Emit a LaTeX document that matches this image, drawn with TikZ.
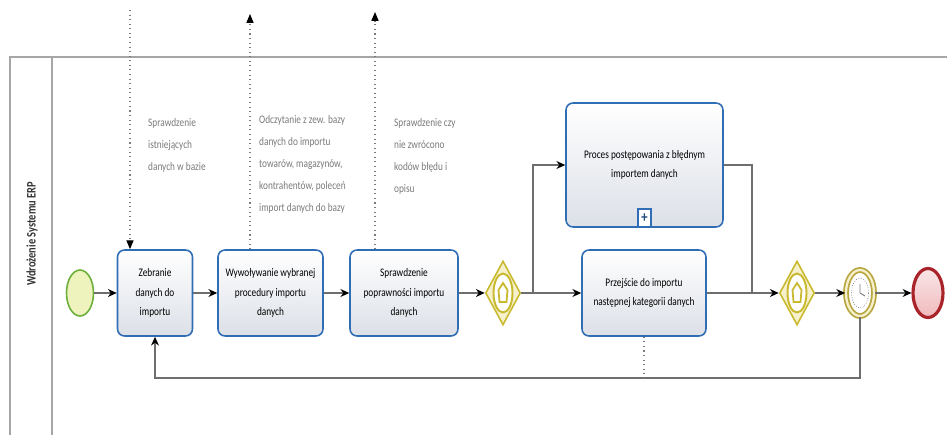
\documentclass[tikz,border=0pt]{standalone}
\usepackage{fontspec}
\setmainfont{Carlito}[FakeStretch=0.8]
\usetikzlibrary{arrows.meta,shapes.geometric,calc}

\definecolor{taskblue}{HTML}{2F6DB5}
\definecolor{taskfill}{HTML}{DCE0E7}
\definecolor{gwline}{HTML}{C9B92E}
\definecolor{gwfill}{HTML}{F6F1CC}
\definecolor{startline}{HTML}{6BAF3A}
\definecolor{startfill}{HTML}{EEF3BE}
\definecolor{endline}{HTML}{A8242A}
\definecolor{endfill}{HTML}{F0B9BC}
\definecolor{timerline}{HTML}{B8A640}
\definecolor{flowgray}{HTML}{6E6E6E}
\definecolor{notegray}{HTML}{7A7A7A}

\begin{document}
\begin{tikzpicture}[
  x=0.02cm, y=-0.02cm,
  every node/.style={font=\fontsize{6.6}{11}\selectfont},
  task/.style={draw=taskblue, line width=0.9pt, rounded corners=4pt,
    top color=white, bottom color=taskfill, align=center,
    minimum height=1.72cm, inner sep=2pt},
  gateway/.style={diamond, draw=gwline, line width=0.9pt, fill=gwfill,
    minimum width=0.7cm, minimum height=1.28cm, inner sep=0pt},
  gwring/.style={ellipse, draw=gwline, line width=1.1pt, fill=white,
    minimum width=0.38cm, minimum height=0.78cm, inner sep=0pt},
  gwmark/.style={draw=gwline, line width=1pt},
  startev/.style={ellipse, draw=startline, line width=0.9pt, fill=startfill,
    minimum width=0.54cm, minimum height=0.92cm, inner sep=0pt},
  endev/.style={ellipse, draw=endline, line width=1.8pt,
    top color=endfill!35, bottom color=endfill,
    minimum width=0.6cm, minimum height=0.98cm, inner sep=0pt},
  timerev/.style={ellipse, draw=timerline, line width=1pt,
    double=gwfill, double distance=1.3pt, fill=white,
    minimum width=0.56cm, minimum height=0.92cm, inner sep=0pt},
  flow/.style={draw=flowgray, line width=0.8pt,
    -{Stealth[length=5pt,width=4.5pt,color=black]}},
  flowline/.style={draw=flowgray, line width=0.8pt},
  assoc/.style={draw=notegray, dotted, line width=0.6pt},
  assocarr/.style={assoc, -{Triangle[length=5pt,width=4pt,color=black]}},
  note/.style={text=notegray, align=left, anchor=north west,
    font=\fontsize{6.6}{12.5}\selectfont},
  pool/.style={draw=gray!70, line width=0.8pt},
]
\useasboundingbox (0,0) rectangle (947,435);

% pool and lane header
\draw[pool] (947,57) -- (10,57) -- (10,435);
\draw[pool] (52,57) -- (52,435);
\node[rotate=90, font=\bfseries\fontsize{7.4}{8}\selectfont, text=black!80] (lane) at (32,234) {Wdrożenie Systemu ERP};

% events, tasks and gateways
\node[startev] (start) at (80,293) {};
\node[task, minimum width=1.5cm] (task1) at (155,293) {Zebranie\\danych do\\importu};
\node[task, minimum width=2.1cm] (task2) at (270.5,293) {Wywoływanie wybranej\\procedury importu\\danych};
\node[task, minimum width=2.16cm] (task3) at (404,293) {Sprawdzenie\\poprawności importu\\danych};
\node[gateway] (gw1) at (503,293) {};
\node[task, minimum width=3.14cm, minimum height=2.48cm] (sub) at (644.5,165) {Proces postępowania z błędnym\\importem danych};
\node[draw=taskblue, line width=1pt, fill=white, minimum width=0.26cm, minimum height=0.36cm,
  inner sep=0pt, anchor=south, text=taskblue!70!black, font=\bfseries\fontsize{9}{9}\selectfont] (submark) at (sub.south) {+};
\node[task, minimum width=2.48cm] (task4) at (644,293) {Przejście do importu\\następnej kategorii danych};
\node[gateway] (gw2) at (797,293) {};
\node[timerev] (timer) at (860,293) {};
\node[endev] (end) at (928,293) {};

% gateway and timer markers
\foreach \g in {gw1,gw2} {
  \node[gwring] (\g ring) at (\g) {};
  \draw[gwmark] ($(\g)+(0,-10)$) -- ($(\g)+(4.5,-3)$) -- ($(\g)+(3.5,9)$)
    -- ($(\g)+(-3.5,9)$) -- ($(\g)+(-4.5,-3)$) -- cycle;
}
\node[ellipse, draw=notegray, densely dotted, minimum width=0.34cm, minimum height=0.6cm, inner sep=0pt] (clock) at (timer) {};
\draw[notegray, line width=0.5pt] (clock.center) -- ++(0,-9) (clock.center) -- ++(5,3);

% sequence flows
\coordinate (split) at (533,293);
\coordinate (merge) at (752,293);
\coordinate (loop) at (155,378);
\draw[flow] (start) -- (task1);
\draw[flow] (task1) -- (task2);
\draw[flow] (task2) -- (task3);
\draw[flow] (task3) -- (gw1);
\draw[flow] (gw1) -- (task4);
\draw[flow] (split) |- (sub.west);
\draw[flowline] (sub.east) -| (merge);
\draw[flow] (task4) -- (gw2);
\draw[flow] (gw2) -- (timer);
\draw[flow] (timer) -- (end);
\draw[flow] (timer.south) |- (loop) -- (task1.south);
\draw[assoc] (task4.south) -- (task4.south |- loop);

% annotations
\coordinate (n1) at (130,10);
\coordinate (n2) at (250,14);
\coordinate (n3) at (375,12);
\draw[assocarr] (n1) -- (n1 |- task1.north);
\draw[assocarr] (n2 |- task2.north) -- (n2);
\draw[assocarr] (n3 |- task3.north) -- (n3);
\node[note] (note1) at (142,112) {Sprawdzenie\\istniejących\\danych w bazie};
\node[note] (note2) at (253,109) {Odczytanie z zew. bazy\\danych do importu\\towarów, magazynów,\\kontrahentów, poleceń\\import danych do bazy};
\node[note] (note3) at (388,112) {Sprawdzenie czy\\nie zwrócono\\kodów błędu i\\opisu};
\end{tikzpicture}
\end{document}
